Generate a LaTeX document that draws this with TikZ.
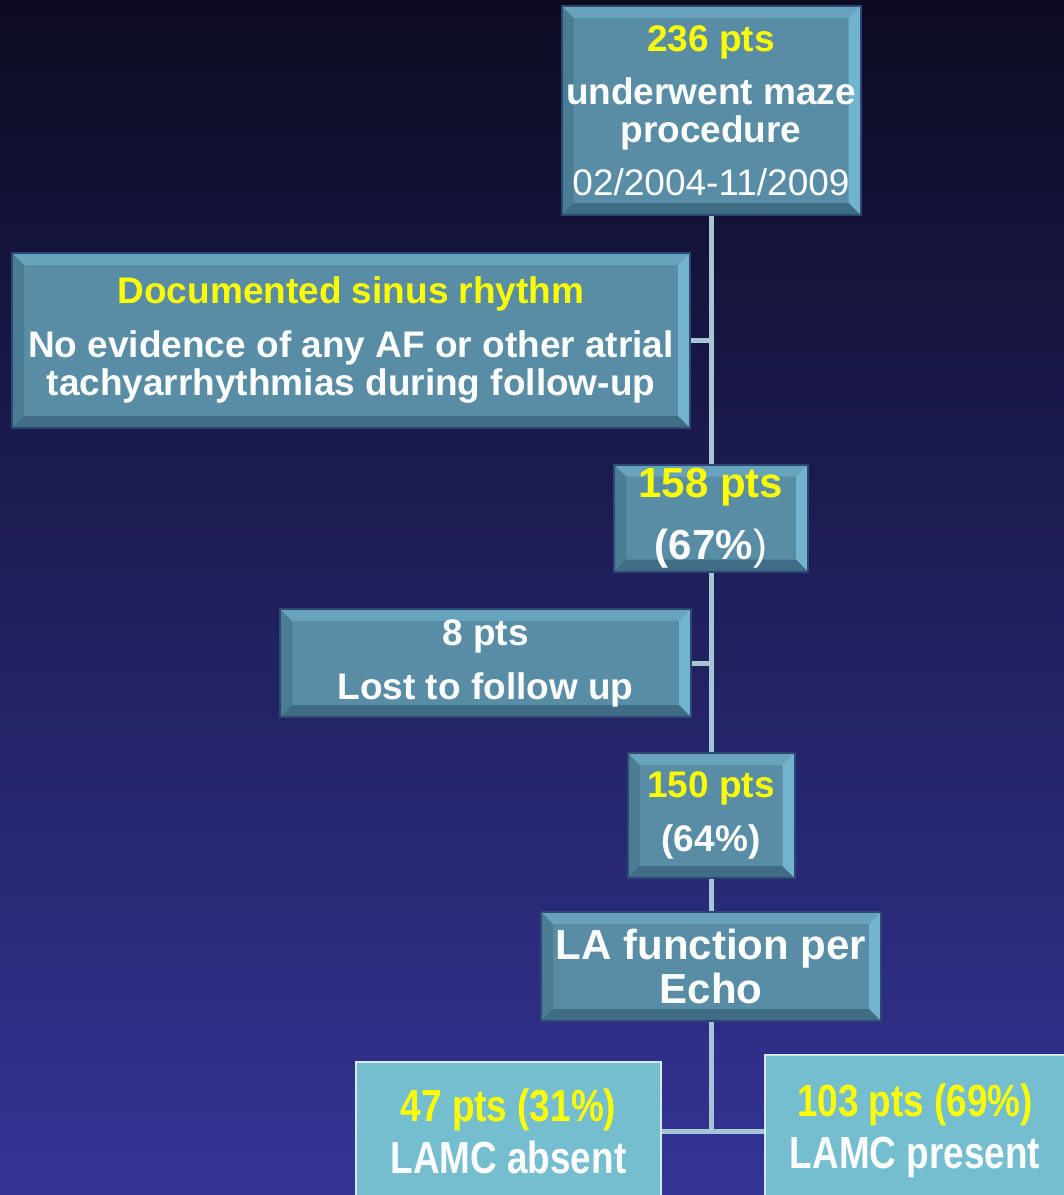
\documentclass[tikz,border=0pt]{standalone}
\usepackage{fontspec}
\setmainfont{Liberation Sans}
\newfontfamily\narrowsf[FakeStretch=0.82]{Liberation Sans}
\usepackage{xcolor}
\usetikzlibrary{positioning}
\definecolor{bgtop}{HTML}{0C0B22}
\definecolor{bgbot}{HTML}{343496}
\definecolor{boxfill}{HTML}{588DA5}
\definecolor{boxedge}{HTML}{2E4876}
\definecolor{bevlight}{HTML}{68A3BC}
\definecolor{bevright}{HTML}{72B3CE}
\definecolor{bevleft}{HTML}{4A7C94}
\definecolor{bevdark}{HTML}{406C86}
\definecolor{flatfill}{HTML}{74BECF}
\definecolor{flatedge}{HTML}{D6E6EE}
\definecolor{linkblue}{HTML}{A6C6D6}
\definecolor{ptsyellow}{HTML}{FFFF00}
\newcommand{\yl}[1]{\textcolor{ptsyellow}{#1}}
\tikzset{
  bevbox/.style 2 args={draw=boxedge,line width=2pt,fill=boxfill,
    minimum width=#1pt,minimum height=#2pt,inner sep=0pt,align=center,
    text=white,font=\bfseries\fontsize{37}{38}\selectfont,
    path picture={
      \fill[bevlight] (path picture bounding box.north west) -- (path picture bounding box.north east)
        -- ([shift={(-12pt,-12pt)}]path picture bounding box.north east)
        -- ([shift={(12pt,-12pt)}]path picture bounding box.north west) -- cycle;
      \fill[bevright] (path picture bounding box.north east) -- (path picture bounding box.south east)
        -- ([shift={(-12pt,12pt)}]path picture bounding box.south east)
        -- ([shift={(-12pt,-12pt)}]path picture bounding box.north east) -- cycle;
      \fill[bevleft] (path picture bounding box.north west) -- (path picture bounding box.south west)
        -- ([shift={(12pt,12pt)}]path picture bounding box.south west)
        -- ([shift={(12pt,-12pt)}]path picture bounding box.north west) -- cycle;
      \fill[bevdark] (path picture bounding box.south west) -- (path picture bounding box.south east)
        -- ([shift={(-12pt,12pt)}]path picture bounding box.south east)
        -- ([shift={(12pt,12pt)}]path picture bounding box.south west) -- cycle;
    }},
  bigtext/.style={font=\bfseries\fontsize{42}{44}\selectfont},
  flatbox/.style 2 args={draw=flatedge,line width=2pt,fill=flatfill,
    minimum width=#1pt,minimum height=#2pt,inner sep=0pt,align=center,
    text=white,font=\narrowsf\bfseries\fontsize{45}{52}\selectfont},
  link/.style={linkblue,line width=5pt},
}
\begin{document}
\begin{tikzpicture}[x=1pt,y=-1pt]
  \useasboundingbox (0,0) rectangle (1064,1195);
  \shade[top color=bgtop,bottom color=bgbot] (0,0) rectangle (1064,1195);
  % flow boxes
  \node[bevbox={299}{209}] (nMaze) at (711,110.5)
    {\yl{236 pts}\\[15pt] underwent maze\\ procedure\\[15pt]\mdseries 02/2004-11/2009};
  \node[bevbox={678}{175}] (nSinus) at (351,340.5)
    {\yl{Documented sinus rhythm}\\[16pt] No evidence of any AF or other atrial\\ tachyarrhythmias during follow-up};
  \node[bevbox={194}{107},bigtext] (nKeep) at (711,518)
    {\yl{158 pts}\\[18pt] (67\%{\mdseries)}};
  \node[bevbox={411}{108}] (nLost) at (485.5,663)
    {8 pts\\[16pt] Lost to follow up};
  \node[bevbox={167}{125}] (nEcho) at (711,815.5)
    {\yl{150 pts}\\[16pt] (64\%)};
  \node[bevbox={340}{109},bigtext] (nLAfn) at (711,966.5)
    {LA function per\\ Echo};
  \node[flatbox={305}{138}] (nAbsent) at (508.5,1131)
    {\yl{47 pts (31\%)}\\ LAMC absent};
  \node[flatbox={300}{152}] (nPresent) at (915,1131)
    {\yl{103 pts (69\%)}\\ LAMC present};
  % connectors
  \draw[link] (nMaze.south) -- (nKeep.north);
  \draw[link] (nSinus.east) -- (nSinus.east -| nKeep.north);
  \draw[link] (nKeep.south) -- (nEcho.north);
  \draw[link] (nLost.east) -- (nLost.east -| nKeep.south);
  \draw[link] (nEcho.south) -- (nLAfn.north);
  \draw[link] (nLAfn.south) |- (nAbsent.east);
  \draw[link] (nLAfn.south) |- (nPresent.west);
\end{tikzpicture}
\end{document}
